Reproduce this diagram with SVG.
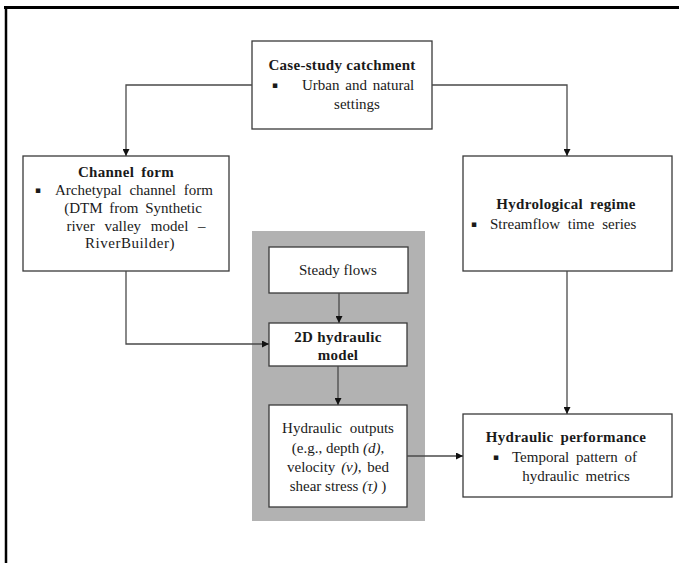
<svg xmlns="http://www.w3.org/2000/svg" width="679" height="563" viewBox="0 0 679 563">
  <style>
    text { font-family: "Liberation Serif", "Times New Roman", serif; font-size: 15px; fill: #1a1a1a; }
    .title { font-weight: bold; letter-spacing: 0.3px; }
    .mid { text-anchor: middle; }
    .bullet { font-family: "DejaVu Sans", sans-serif; font-size: 9px; letter-spacing: 0; }
    .box { fill: #ffffff; stroke: #3a3a3a; stroke-width: 1.3; }
    .panel { fill: #b2b2b2; }
    .frame { stroke: #000000; fill: none; }
    .link { fill: none; stroke: #4a4a4a; stroke-width: 1.3; marker-end: url(#arrow); }
    .it { font-style: italic; }
  </style>
  <defs>
    <marker id="arrow" viewBox="0 0 10 10" refX="10" refY="5" markerWidth="7" markerHeight="7" markerUnits="userSpaceOnUse" orient="auto">
      <path d="M0,0 L10,5 L0,10 Z" fill="#111111"/>
    </marker>
  </defs>

  <!-- page frame -->
  <line class="frame" x1="4" y1="7.5" x2="679" y2="7.5" stroke-width="3"/>
  <line class="frame" x1="6" y1="7" x2="6" y2="563" stroke-width="2.5"/>

  <!-- shaded modelling panel -->
  <rect id="model-panel" class="panel" x="252" y="231" width="173" height="290"/>

  <g id="case-study">
    <rect class="box" x="252" y="41" width="180" height="88"/>
    <text class="title mid" x="342" y="70">Case-study catchment</text>
    <text class="bullet" x="272" y="88">▪</text>
    <text x="302" y="90" word-spacing="2">Urban and natural</text>
    <text class="mid" x="357" y="109">settings</text>
  </g>

  <g id="channel-form">
    <rect class="box" x="23" y="156" width="206" height="115"/>
    <text class="title mid" x="126" y="177" word-spacing="3">Channel form</text>
    <text class="bullet" x="35" y="193">▪</text>
    <text x="55" y="195" word-spacing="4">Archetypal channel form</text>
    <text class="mid" x="133" y="213" word-spacing="3">(DTM from Synthetic</text>
    <text class="mid" x="136" y="231" word-spacing="6">river valley model –</text>
    <text class="mid" x="130" y="248" letter-spacing="0.5">RiverBuilder)</text>
  </g>

  <g id="hydrological-regime">
    <rect class="box" x="463" y="156" width="209" height="115"/>
    <text class="title mid" x="566" y="209" word-spacing="3">Hydrological regime</text>
    <text class="bullet" x="471" y="227">▪</text>
    <text x="490" y="229" word-spacing="4">Streamflow time series</text>
  </g>

  <g id="steady-flows">
    <rect class="box" x="269" y="247" width="139" height="46"/>
    <text class="mid" x="338" y="275">Steady flows</text>
  </g>

  <g id="hydraulic-model">
    <rect class="box" x="269" y="323" width="138" height="43"/>
    <text class="title mid" x="338" y="342">2D hydraulic</text>
    <text class="title mid" x="338" y="360">model</text>
  </g>

  <g id="hydraulic-outputs">
    <rect class="box" x="269" y="405" width="138" height="102"/>
    <text class="mid" x="338" y="433" word-spacing="4">Hydraulic outputs</text>
    <text class="mid" x="338" y="453">(e.g., depth <tspan class="it">(d)</tspan>,</text>
    <text class="mid" x="338" y="472" word-spacing="2">velocity <tspan class="it">(v)</tspan>, bed</text>
    <text class="mid" x="338" y="491">shear stress <tspan class="it">(τ)</tspan> )</text>
  </g>

  <g id="hydraulic-performance">
    <rect class="box" x="463" y="414" width="209" height="83"/>
    <text class="title mid" x="566" y="442" word-spacing="3">Hydraulic performance</text>
    <text class="bullet" x="493" y="460">▪</text>
    <text x="512" y="462" word-spacing="3">Temporal pattern of</text>
    <text class="mid" x="576" y="481" word-spacing="3">hydraulic metrics</text>
  </g>

  <g id="connectors">
    <path class="link" d="M252,85 H126 V156"/>
    <path class="link" d="M432,85 H567 V156"/>
    <path class="link" d="M126,271 V344 H269"/>
    <path class="link" d="M339,293 V323"/>
    <path class="link" d="M338,366 V405"/>
    <path class="link" d="M567,271 V414"/>
    <path class="link" d="M407,456 H463"/>
  </g>
</svg>
